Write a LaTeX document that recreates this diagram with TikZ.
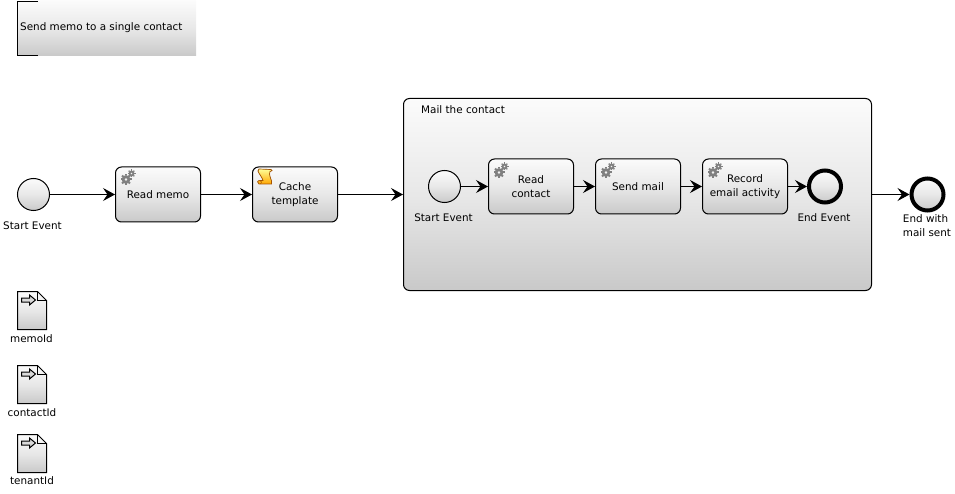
\documentclass[tikz,border=0pt]{standalone}
\usepackage{fontspec}
\setmainfont{DejaVu Sans}
\usetikzlibrary{arrows.meta}
\definecolor{gtop}{HTML}{FBFBFB}
\definecolor{gbot}{HTML}{C9C9C9}
\definecolor{gearc}{HTML}{808080}
\tikzset{
  grad/.style={top color=gtop,bottom color=gbot,middle color=gtop!62!gbot},
  task/.style={grad,draw=black,line width=1pt,rounded corners=6pt,minimum width=85pt,minimum height=55pt,inner sep=0pt,align=center,font=\lbl},
  subproc/.style={grad,draw=black,line width=1pt,rounded corners=6pt,minimum width=468pt,minimum height=192pt,inner sep=0pt},
  startev/.style={grad,draw=black,line width=1pt,circle,minimum size=32pt,inner sep=0pt},
  endev/.style={grad,draw=black,line width=4pt,circle,minimum size=32pt,inner sep=0pt},
  lab/.style={font=\lbl,align=center,inner sep=0pt,text=black},
  flow/.style={draw=black,line width=1pt,-{Stealth[length=12pt,width=13pt,inset=4.5pt]}},
  gear/.pic={
    \fill[gearc,even odd rule] (0,0) circle (4.4pt) (0,0) circle (1.7pt);
    \foreach \a in {0,45,...,315}{\fill[gearc,rotate=\a] (-1pt,-5.5pt) rectangle (1pt,-4pt);}
    \begin{scope}[shift={(5.5pt,6pt)}]
      \fill[gearc,even odd rule] (0,0) circle (3pt) (0,0) circle (1.2pt);
      \foreach \a in {0,45,...,315}{\fill[gearc,rotate=\a] (-0.7pt,-4pt) rectangle (0.7pt,-2.7pt);}
    \end{scope}
  },
  docicon/.pic={
    \fill[grad,draw=black,line width=1pt] (0,0) -- (20,0) -- (29,9) -- (29,38) -- (0,38) -- cycle;
    \draw[black,line width=0.6pt] (20,0) -- (20,9) -- (29,9);
    \draw[black,line width=1pt,fill=white!85!black,line join=miter] (4,6.5) -- (12,6.5) -- (12,3.5) -- (18,8.5) -- (12,13.5) -- (12,10.5) -- (4,10.5) -- cycle;
  },
  scrollicon/.pic={
    \fill[top color=yellow!40!white,bottom color=orange!70!yellow,draw=orange!65!black,line width=0.7pt]
      (2,0) -- (14,0.5) .. controls (15.5,1) and (15.5,2.5) .. (13,2.5)
      .. controls (11.5,6) and (14,9) .. (14.5,12) -- (14.5,15) -- (2,15)
      .. controls (0,14) and (0,11.5) .. (3,11.5) -- (6,11.5)
      .. controls (5,8) and (2,5) .. (1,2) .. controls (0.8,1) and (1,0.3) .. (2,0) -- cycle;
    \draw[orange!65!black,line width=0.5pt] (3,11.5) .. controls (5,12) and (5,14) .. (3.5,15);
  },
}
\newcommand{\lbl}{\fontsize{10.4pt}{14pt}\selectfont}
\begin{document}
\begin{tikzpicture}[x=1pt,y=-1pt]
\useasboundingbox (0,0) rectangle (955,494);
% annotation
\node[grad,minimum width=178pt,minimum height=55pt,inner sep=0pt] (note) at (107,28.5) {};
\node[lab,anchor=west] (notetxt) at (20,28) {Send memo to a single contact};
\coordinate (nt) at (38,1.5);
\coordinate (nb) at (38,56);
\draw[black,line width=1pt] (nt) -- (17.5,1.5) -- (17.5,56) -- (nb);
% outer flow
\node[startev] (s1) at (33.5,194.5) {};
\node[lab] (s1l) at (32.5,226) {Start Event};
\node[task] (t1) at (158,194.5) {Read memo};
\node[task] (t2) at (295,194.5) {Cache\\template};
\node[subproc] (sp) at (637.5,194.5) {};
\node[lab,anchor=west] (spl) at (421,110) {Mail the contact};
\node[startev] (s2) at (444.5,186.5) {};
\node[lab] (s2l) at (443.5,218) {Start Event};
\node[task] (t3) at (531,186.5) {Read\\contact};
\node[task] (t4) at (638,186.5) {Send mail};
\node[task] (t5) at (745,186.5) {Record\\email activity};
\node[endev] (e1) at (825,186.5) {};
\node[lab] (e1l) at (824,218) {End Event};
\node[endev] (e2) at (927.5,194.5) {};
\node[lab,align=left] (e2l) at (927,225.5) {End with\\mail sent};
\draw[flow] (s1) -- (t1);
\draw[flow] (t1) -- (t2);
\draw[flow] (t2) -- (sp);
\draw[flow] (s2) -- (t3);
\draw[flow] (t3) -- (t4);
\draw[flow] (t4) -- (t5);
\draw[flow] (t5) -- (e1);
\draw[flow] (sp) -- (e2);
% icons
\path pic at (126,179.5) {gear};
\path pic at (499,172.5) {gear};
\path pic at (606,172.5) {gear};
\path pic at (713,172.5) {gear};
\path pic at (257,169) {scrollicon};
% data objects
\path pic at (17.5,291.5) {docicon};
\path pic at (17.5,365.5) {docicon};
\path pic at (17.5,434.5) {docicon};
\node[lab] (d1) at (31.5,338.5) {memoId};
\node[lab] (d2) at (32,412.5) {contactId};
\node[lab] (d3) at (32,480.5) {tenantId};
\end{tikzpicture}
\end{document}
